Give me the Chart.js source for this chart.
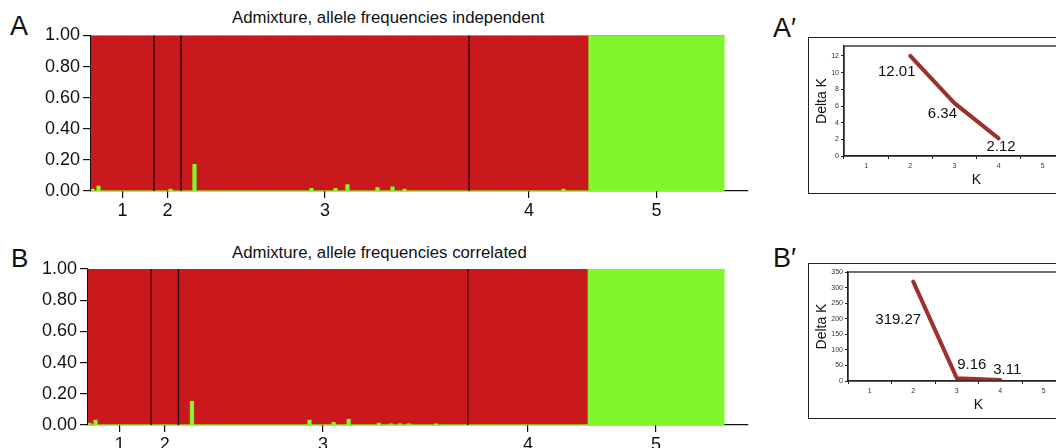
<!DOCTYPE html>
<html>
<head>
<meta charset="utf-8">
<script src="https://cdn.jsdelivr.net/npm/chart.js@4.4.1/dist/chart.umd.min.js"></script>
<style>
  html, body { margin:0; padding:0; background:#fff; }
  body { width:1056px; height:448px; overflow:hidden; position:relative; font-family:"Liberation Sans", Arial, sans-serif; color:#111; }
  canvas { position:absolute; }
  .txt { position:absolute; white-space:nowrap; line-height:1; color:#111; }
  .box { position:absolute; border:1.5px solid #222; box-sizing:border-box; }
</style>
</head>
<body>
<div class="txt" style="left:10px;top:13px;font-size:27px;">A</div>
<div class="txt" style="left:11px;top:245px;font-size:26px;">B</div>
<div class="txt" style="left:232px;top:10px;font-size:16.8px;">Admixture, allele frequencies independent</div>
<div class="txt" style="left:232px;top:245px;font-size:16.8px;">Admixture, allele frequencies correlated</div>
<div class="txt" style="left:773px;top:15px;font-size:27px;">A′</div>
<div class="txt" style="left:773px;top:245px;font-size:27px;">B′</div>
<div class="box" style="left:808px;top:37px;width:320px;height:157px;"></div>
<div class="box" style="left:808px;top:263px;width:320px;height:156px;"></div>

<canvas id="cA" width="760" height="230" style="left:0;top:0;"></canvas>
<canvas id="cB" width="760" height="240" style="left:0;top:236px;"></canvas>
<canvas id="cA2" width="300" height="155" style="left:809px;top:38px;"></canvas>
<canvas id="cB2" width="300" height="154" style="left:809px;top:264px;"></canvas>

<script>
// ---------------- DATA ----------------
const popLabels = ['1', '2', '3', '4', '5'];
const popSizes = [21, 9, 96, 40, 45];       // individuals per population
const emptyTail = 8;                         // empty slots at right end of axis
const greenPop = 4;                          // population index fully assigned to green cluster

// sparse green-cluster memberships (individual index -> q) for the red populations
const spikeIdxA = [0, 2, 26, 34, 73, 81, 85, 95, 100, 104, 157];
const spikeValA = [0.01, 0.03, 0.01, 0.17, 0.015, 0.015, 0.04, 0.02, 0.025, 0.01, 0.01];
const spikeIdxB = [0, 2, 34, 73, 81, 86, 96, 100, 103, 106, 115];
const spikeValB = [0.01, 0.03, 0.15, 0.03, 0.015, 0.035, 0.01, 0.006, 0.006, 0.006, 0.006];

// Delta K plots
const kLabels = ['1', '2', '3', '4', '5', '6'];
const deltaKA = [null, 12.01, 6.34, 2.12, null, null];
const deltaKB = [null, 319.27, 9.16, 3.11, null, null];

// ---------------- STYLE ----------------
const RED = '#c9191d';
const GREEN = '#80f72b';
const LINE = '#9c302c';
const FONT = '"Liberation Sans", Arial, sans-serif';

// ---------------- BUILD ----------------
const nInd = popSizes.reduce((a, b) => a + b, 0);
const nAxis = nInd + emptyTail;
const starts = [];
popSizes.reduce((acc, s) => { starts.push(acc); return acc + s; }, 0);
const centers = popSizes.map((s, i) => starts[i] + s / 2);
const boundaries = [starts[1], starts[2], starts[3]];

function buildSeries(idx, val) {
  const green = [], red = [];
  for (let p = 0; p < popSizes.length; p++) {
    for (let k = 0; k < popSizes[p]; k++) {
      const i = starts[p] + k;
      let g = 0;
      if (p === greenPop) g = 1;
      else { const j = idx.indexOf(i); if (j >= 0) g = val[j]; }
      green.push(g); red.push(1 - g);
    }
  }
  return { green, red };
}

const separators = {
  id: 'separators',
  afterDatasetsDraw(chart) {
    const s = chart.scales.xt, a = chart.chartArea, ctx = chart.ctx;
    ctx.save();
    ctx.strokeStyle = '#2a0808';
    ctx.lineWidth = 1.4;
    boundaries.forEach(b => {
      const x = s.getPixelForValue(b);
      ctx.beginPath(); ctx.moveTo(x, a.top); ctx.lineTo(x, a.bottom); ctx.stroke();
    });
    ctx.restore();
  }
};

function structureChart(id, series, yWidth, padTop, plotBottom) {
  const cv = document.getElementById(id);
  const H = cv.height, W = cv.width;
  const barStyle = { borderWidth: 0, barPercentage: 1, categoryPercentage: 1, inflateAmount: 0.6, xAxisID: 'x', yAxisID: 'y' };
  return new Chart(cv, {
    type: 'bar',
    data: {
      labels: Array.from({ length: nAxis }, (_, i) => String(i)),
      datasets: [
        Object.assign({ data: series.green, backgroundColor: GREEN }, barStyle),
        Object.assign({ data: series.red, backgroundColor: RED }, barStyle)
      ]
    },
    options: {
      responsive: false, animation: false, devicePixelRatio: 1,
      layout: { padding: { top: padTop, right: W - 748, left: 0, bottom: 0 } },
      plugins: { legend: { display: false }, tooltip: { enabled: false }, title: { display: false } },
      scales: {
        x: { type: 'category', display: false, stacked: true, offset: true },
        xt: {
          type: 'linear', position: 'bottom', min: 0, max: nAxis, offset: false,
          afterBuildTicks: s => { s.ticks = centers.map(v => ({ value: v })); },
          afterFit: s => { s.height = H - plotBottom; },
          ticks: { autoSkip: false, maxRotation: 0, padding: 2, color: '#111', font: { family: FONT, size: 18 },
                   callback: (v, i) => popLabels[i] },
          grid: { offset: false, drawOnChartArea: false, tickLength: 7, color: '#111', lineWidth: 1.2 },
          border: { display: true, color: '#111', width: 1.3 }
        },
        y: {
          stacked: true, min: 0, max: 1,
          afterFit: s => { s.width = yWidth; },
          ticks: { stepSize: 0.2, padding: 3, color: '#111', font: { family: FONT, size: 18 },
                   callback: v => Number(v).toFixed(2) },
          grid: { drawOnChartArea: false, tickLength: 8, color: '#111', lineWidth: 1.2 },
          border: { display: true, color: '#111', width: 1.3 }
        }
      }
    },
    plugins: [separators]
  });
}

structureChart('cA', buildSeries(spikeIdxA, spikeValA), 91, 35.5, 191);
structureChart('cB', buildSeries(spikeIdxB, spikeValB), 88, 33, 425 - 236);

// -------- Delta K insets --------
const frame = {
  id: 'frame',
  afterDraw(chart) {
    const a = chart.chartArea, ctx = chart.ctx;
    ctx.save(); ctx.strokeStyle = '#222'; ctx.lineWidth = 1.3;
    ctx.strokeRect(a.left, a.top, a.right - a.left, a.bottom - a.top);
    ctx.restore();
  }
};
const valueLabels = {
  id: 'valueLabels',
  afterDatasetsDraw(chart, args, opts) {
    const ctx = chart.ctx, meta = chart.getDatasetMeta(0), data = chart.data.datasets[0].data;
    ctx.save();
    ctx.fillStyle = '#111'; ctx.font = '15px ' + FONT;
    ctx.textAlign = 'center'; ctx.textBaseline = 'middle';
    let j = 0;
    data.forEach((v, i) => {
      if (v == null) return;
      const p = meta.data[i], off = opts.offsets[j++];
      ctx.fillText(v.toFixed(2), p.x + off[0], p.y + off[1]);
    });
    ctx.restore();
  }
};

function deltaChart(id, data, yMax, yStep, yWidth, offsets) {
  const cv = document.getElementById(id);
  return new Chart(cv, {
    type: 'line',
    data: { labels: kLabels, datasets: [{ data, borderColor: LINE, borderWidth: 4, pointRadius: 0, tension: 0, borderCapStyle: 'round', borderJoinStyle: 'round', fill: false }] },
    options: {
      responsive: false, animation: false, devicePixelRatio: 1,
      layout: { padding: { top: 8, right: 0, left: 0, bottom: 0 } },
      plugins: { legend: { display: false }, tooltip: { enabled: false }, valueLabels: { offsets } },
      scales: {
        x: {
          type: 'category', offset: true,
          afterFit: s => { s.height = 37; },
          ticks: { padding: 3, color: '#333', font: { family: FONT, size: 7 } },
          grid: { offset: true, drawOnChartArea: false, tickLength: 3, color: '#222' },
          border: { display: true, color: '#222', width: 1.3 },
          title: { display: true, text: 'K', color: '#111', font: { family: FONT, size: 14 }, padding: { top: 0, bottom: 4.6 } }
        },
        y: {
          min: 0, max: yMax,
          afterFit: s => { s.width = yWidth; },
          ticks: { stepSize: yStep, includeBounds: false, padding: 2, color: '#333', font: { family: FONT, size: 7 } },
          grid: { drawOnChartArea: false, tickLength: 3, color: '#222' },
          border: { display: true, color: '#222', width: 1.3 },
          title: { display: true, text: 'Delta K', color: '#111', font: { family: FONT, size: 14 }, padding: { top: 4.6, bottom: 0 } }
        }
      }
    },
    plugins: [frame, valueLabels]
  });
}

deltaChart('cA2', deltaKA, 13.2, 2, 35, [[-13.5, 16], [-12, 11], [2.5, 9]]);
deltaChart('cB2', deltaKB, 350, 50, 39, [[-15, 38.5], [15, -13], [7, -10]]);
</script>
</body>
</html>
